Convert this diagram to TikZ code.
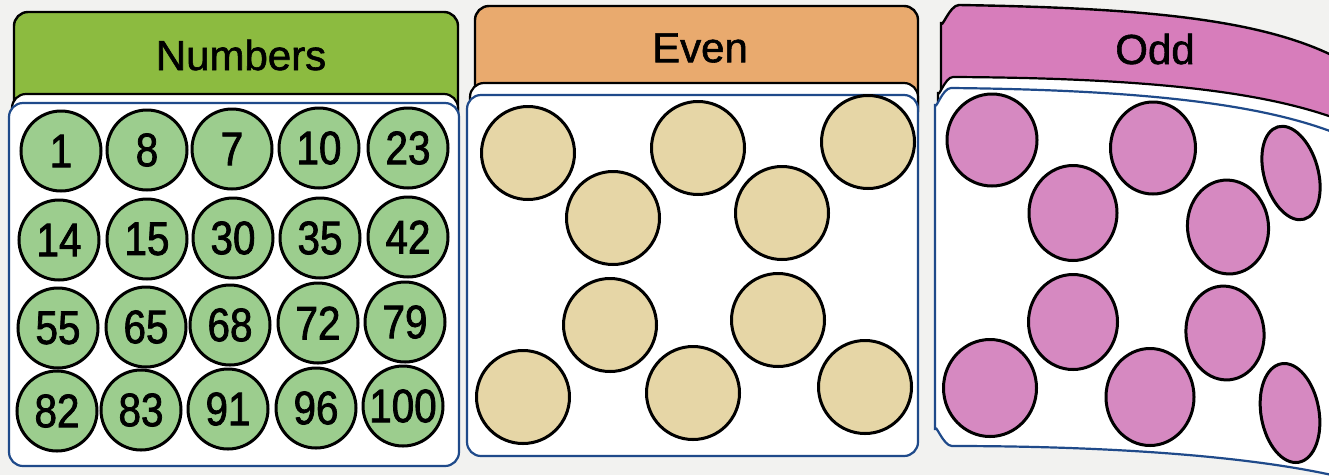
\documentclass[tikz,border=0pt]{standalone}
\usepackage{fontspec}
\setmainfont{Liberation Sans}
\newfontfamily\numfont[FakeStretch=0.86,FakeBold=1.6]{Liberation Sans}
\newfontfamily\hfont[FakeBold=1.4]{Liberation Sans}
\usetikzlibrary{shapes.geometric}
\definecolor{paper}{HTML}{F2F2F0}
\definecolor{greenH}{HTML}{8CBB40}
\definecolor{greenC}{HTML}{9CCD8E}
\definecolor{orangeH}{HTML}{E9AA6E}
\definecolor{beigeC}{HTML}{E6D6A6}
\definecolor{pinkH}{HTML}{D77DBB}
\definecolor{pinkC}{HTML}{D689C1}
\definecolor{boxblue}{HTML}{1F4A8A}
\tikzset{
  hdr/.style={draw=black, line width=2.4pt},
  strip/.style={draw=black, fill=white, line width=2.2pt},
  bbox/.style={draw=boxblue, fill=white, line width=2.2pt, rounded corners=14pt},
  htext/.style={font=\hfont\fontsize{42}{42}\selectfont, inner sep=0pt},
  numc/.style={circle, draw=black, line width=3pt, fill=greenC, minimum size=80pt, inner sep=0pt, font=\numfont\fontsize{47}{47}\selectfont},
  evc/.style={circle, draw=black, line width=3pt, fill=beigeC, minimum size=93pt, inner sep=0pt},
  odc/.style={ellipse, draw=black, line width=3pt, fill=pinkC, inner sep=0pt},
}
\begin{document}
\begin{tikzpicture}[x=1pt,y=-1pt]
\useasboundingbox (0,0) rectangle (1329,475);
\clip (0,0) rectangle (1329,475);
\fill[paper] (0,0) rectangle (1329,475);

% ---------- Numbers panel ----------
\draw[hdr, fill=greenH, rounded corners=14pt] (14,12) rectangle (458,125);
\draw[strip, rounded corners=14pt] (12,94) rectangle (458,130);
\draw[bbox] (9,103) rectangle (459,466);
\node[htext] (tNum) at (241,55) {Numbers};

\node[numc] (c1)  at (61,151) {1};
\node[numc] (c2)  at (147,150) {8};
\node[numc] (c3)  at (232,149) {7};
\node[numc] (c4)  at (319,148) {10};
\node[numc] (c5)  at (408,148) {23};
\node[numc] (c6)  at (59,240) {14};
\node[numc] (c7)  at (147,239) {15};
\node[numc] (c8)  at (233,238) {30};
\node[numc] (c9)  at (320,238) {35};
\node[numc] (c10) at (408,237) {42};
\node[numc] (c11) at (58,328) {55};
\node[numc] (c12) at (146,327) {65};
\node[numc] (c13) at (230,325) {68};
\node[numc] (c14) at (318,323) {72};
\node[numc] (c15) at (405,322) {79};
\node[numc] (c16) at (57,411) {82};
\node[numc] (c17) at (141,410) {83};
\node[numc] (c18) at (228,409) {91};
\node[numc] (c19) at (316,408) {96};
\node[numc] (c20) at (403,406) {100};

% ---------- Even panel ----------
\draw[hdr, fill=orangeH, rounded corners=14pt] (475,6) rectangle (918,120);
\draw[strip, rounded corners=14pt] (470,83) rectangle (918,125);
\draw[bbox] (467,95) rectangle (918,456);
\node[htext] (tEven) at (700,48) {Even};

\node[evc] (e1)  at (528,153) {};
\node[evc] (e2)  at (698,148) {};
\node[evc] (e3)  at (868,142) {};
\node[evc] (e4)  at (613,218) {};
\node[evc] (e5)  at (782,213) {};
\node[evc] (e6)  at (610,325) {};
\node[evc] (e7)  at (778,320) {};
\node[evc] (e8)  at (523,397) {};
\node[evc] (e9)  at (693,393) {};
\node[evc] (e10) at (865,387) {};

% ---------- Odd panel ----------
\draw[hdr, fill=pinkH] (941,110) -- (941,22) to[out=-90,in=180] (959,5)
  .. controls (1150,8) and (1270,20) .. (1345,62) -- (1345,150) -- cycle;
\draw[strip] (938,130) -- (938,92) to[out=-90,in=180] (953,77)
  .. controls (1150,78) and (1270,92) .. (1345,122) -- (1345,160) -- cycle;
\draw[draw=boxblue, fill=white, line width=2.2pt] (935,430) -- (935,104) to[out=-90,in=180] (951,88)
  .. controls (1150,90) and (1270,105) .. (1345,137) -- (1345,478)
  .. controls (1250,455) and (1100,446) .. (952,446) to[out=180,in=90] (935,430);
\node[htext] (tOdd) at (1155,49) {Odd};

\node[odc, minimum width=90pt, minimum height=92pt] (o1) at (992,140) {};
\node[odc, minimum width=85pt, minimum height=92pt] (o2) at (1153,148) {};
\node[odc, minimum width=54pt, minimum height=96pt, rotate=16] (o3) at (1291,173) {};
\node[odc, minimum width=88pt, minimum height=95pt] (o4) at (1073,213) {};
\node[odc, minimum width=81pt, minimum height=94pt, rotate=6] (o5) at (1228,227) {};
\node[odc, minimum width=89pt, minimum height=95pt] (o6) at (1073,322) {};
\node[odc, minimum width=78pt, minimum height=94pt, rotate=6] (o7) at (1225,333) {};
\node[odc, minimum width=93pt, minimum height=97pt] (o8) at (990,388) {};
\node[odc, minimum width=88pt, minimum height=97pt] (o9) at (1150,397) {};
\node[odc, minimum width=58pt, minimum height=100pt, rotate=10] (o10) at (1290,413) {};
\end{tikzpicture}
\end{document}
